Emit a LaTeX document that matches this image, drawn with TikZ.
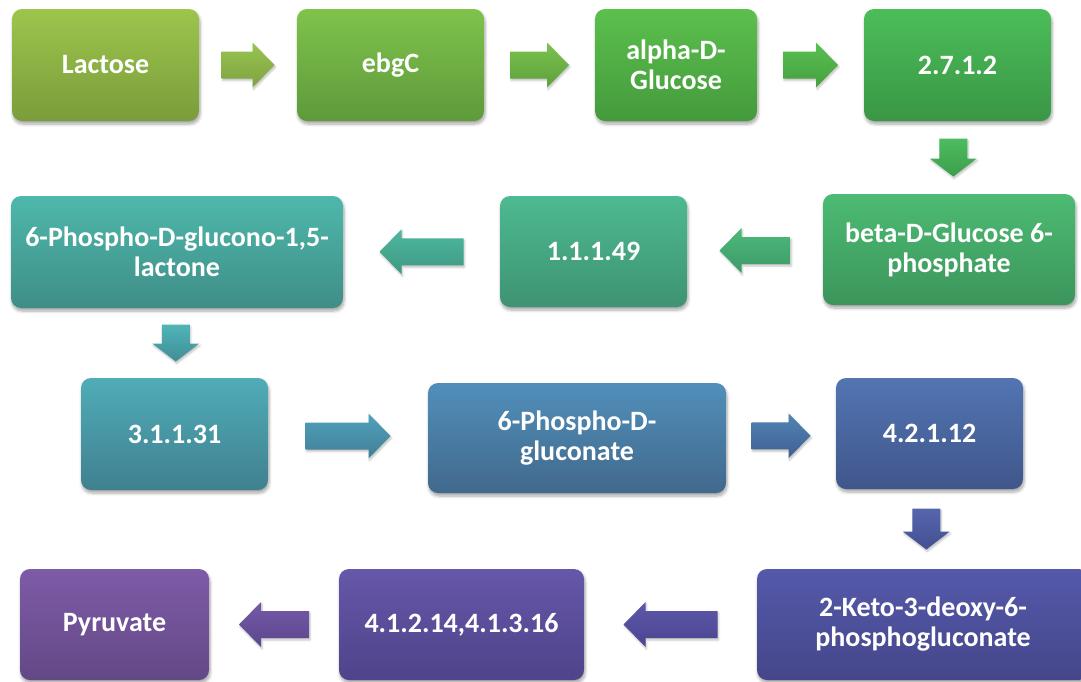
\documentclass[tikz,border=0pt]{standalone}
\usepackage{fontspec}
\setmainfont{Carlito}
\usetikzlibrary{calc,shadows.blur}

% box colours (top / bottom of each gradient)
\definecolor{lacT}{HTML}{9DC54C}\definecolor{lacB}{HTML}{7A9C3B}
\definecolor{ebgT}{HTML}{7FC34C}\definecolor{ebgB}{HTML}{5E9A3A}
\definecolor{alpT}{HTML}{5CC04D}\definecolor{alpB}{HTML}{449A3C}
\definecolor{hexT}{HTML}{4BBE58}\definecolor{hexB}{HTML}{3A9646}
\definecolor{betT}{HTML}{4CBB73}\definecolor{betB}{HTML}{3C955B}
\definecolor{g6dT}{HTML}{4DBA91}\definecolor{g6dB}{HTML}{3E9372}
\definecolor{pglT}{HTML}{4EB8AC}\definecolor{pglB}{HTML}{3F8E86}
\definecolor{lacnT}{HTML}{50ACB8}\definecolor{lacnB}{HTML}{40808F}
\definecolor{pgT}{HTML}{518FBA}\definecolor{pgB}{HTML}{41698C}
\definecolor{edT}{HTML}{5275B2}\definecolor{edB}{HTML}{40568B}
\definecolor{kdT}{HTML}{5459AA}\definecolor{kdB}{HTML}{45468A}
\definecolor{ldT}{HTML}{6657A9}\definecolor{ldB}{HTML}{4F438A}
\definecolor{pyrT}{HTML}{7E5BA7}\definecolor{pyrB}{HTML}{634886}

% arrow colours
\definecolor{a1T}{HTML}{98C452}\definecolor{a1B}{HTML}{7FA23F}
\definecolor{a2T}{HTML}{79C24E}\definecolor{a2B}{HTML}{5FA03D}
\definecolor{a3T}{HTML}{59C051}\definecolor{a3B}{HTML}{45A03F}
\definecolor{a4T}{HTML}{4DBC5F}\definecolor{a4B}{HTML}{3D9E4C}
\definecolor{a5T}{HTML}{4CBA7C}\definecolor{a5B}{HTML}{3D9A66}
\definecolor{a6T}{HTML}{4DB89D}\definecolor{a6B}{HTML}{3F9883}
\definecolor{a7T}{HTML}{4FB5B8}\definecolor{a7B}{HTML}{3F8E95}
\definecolor{a8T}{HTML}{50A1BA}\definecolor{a8B}{HTML}{417F98}
\definecolor{a9T}{HTML}{5184B6}\definecolor{a9B}{HTML}{416090}
\definecolor{a10T}{HTML}{5566B0}\definecolor{a10B}{HTML}{434F90}
\definecolor{a11T}{HTML}{5E57AA}\definecolor{a11B}{HTML}{4A4590}
\definecolor{a12T}{HTML}{7459A8}\definecolor{a12B}{HTML}{5C478D}

\tikzset{
  grad/.style 2 args={shading=axis, top color=#1, bottom color=#2},
  stepbox/.style={rounded corners=10pt, inner sep=0pt, align=center,
    text=white, font=\bfseries\fontsize{28}{30}\selectfont,
    blur shadow={shadow xshift=1pt, shadow yshift=-3pt,
      shadow blur radius=3pt, shadow blur steps=6, shadow opacity=35}},
  arrow length/.store in=\arrowlength, arrow length=53,
  arrow colours/.style 2 args={/utils/exec={\def\arrowtop{#1}\def\arrowbottom{#2}}},
  arrowbody/.style={top color=\arrowtop, bottom color=\arrowbottom,
    blur shadow={shadow xshift=1pt, shadow yshift=-2pt,
      shadow blur radius=2pt, shadow blur steps=4, shadow opacity=25}},
  % block arrows: shaft 27 wide, head 45 wide and 22 long (y grows downwards)
  pics/toright/.style={code={
    \path[arrowbody] ({-\arrowlength/2},-13.5) -- ({\arrowlength/2-22},-13.5)
      -- ({\arrowlength/2-22},-22.5) -- ({\arrowlength/2},0)
      -- ({\arrowlength/2-22},22.5) -- ({\arrowlength/2-22},13.5)
      -- ({-\arrowlength/2},13.5) -- cycle;}},
  pics/toleft/.style={code={
    \path[arrowbody] ({\arrowlength/2},-13.5) -- ({-\arrowlength/2+22},-13.5)
      -- ({-\arrowlength/2+22},-22.5) -- ({-\arrowlength/2},0)
      -- ({-\arrowlength/2+22},22.5) -- ({-\arrowlength/2+22},13.5)
      -- ({\arrowlength/2},13.5) -- cycle;}},
  pics/todown/.style={code={
    \path[arrowbody] (-14,{-\arrowlength/2}) -- (14,{-\arrowlength/2})
      -- (14,{\arrowlength/2-18}) -- (23.5,{\arrowlength/2-18})
      -- (0,{\arrowlength/2}) -- (-23.5,{\arrowlength/2-18})
      -- (-14,{\arrowlength/2-18}) -- cycle;}},
}

\begin{document}
\begin{tikzpicture}[x=1pt, y=-1pt]
\clip (0,0) rectangle (1081,681);

% pathway steps
\node[stepbox, grad={lacT}{lacB}, minimum width=187pt, minimum height=112pt] (lac) at (105.5,65) {Lactose};
\node[stepbox, grad={ebgT}{ebgB}, minimum width=187pt, minimum height=112pt] (ebg) at (390.5,65) {ebgC};
\node[stepbox, grad={alpT}{alpB}, minimum width=162pt, minimum height=112pt] (alp) at (676,65) {alpha-D-\\Glucose};
\node[stepbox, grad={hexT}{hexB}, minimum width=187pt, minimum height=112pt] (hex) at (957.5,65) {2.7.1.2};

\node[stepbox, grad={betT}{betB}, minimum width=252pt, minimum height=111pt] (bet) at (949,249.5) {beta-D-Glucose 6-\\phosphate};
\node[stepbox, grad={g6dT}{g6dB}, minimum width=187pt, minimum height=111pt] (g6d) at (593.5,251.5) {1.1.1.49};
\node[stepbox, grad={pglT}{pglB}, minimum width=332pt, minimum height=112pt] (pgl) at (177,252) {6-Phospho-D-glucono-1,5-\\lactone};

\node[stepbox, grad={lacnT}{lacnB}, minimum width=187pt, minimum height=112pt] (lcn) at (174.5,434) {3.1.1.31};
\node[stepbox, grad={pgT}{pgB}, minimum width=298pt, minimum height=110pt] (pg) at (577,438) {6-Phospho-D-\\gluconate};
\node[stepbox, grad={edT}{edB}, minimum width=187pt, minimum height=111pt] (ed) at (929.5,433.5) {4.2.1.12};

\node[stepbox, grad={kdT}{kdB}, minimum width=332pt, minimum height=111pt] (kdpg) at (923,624.5) {2-Keto-3-deoxy-6-\\phosphogluconate};
\node[stepbox, grad={ldT}{ldB}, minimum width=245pt, minimum height=111pt] (ald) at (461.5,624.5) {4.1.2.14,4.1.3.16};
\node[stepbox, grad={pyrT}{pyrB}, minimum width=189pt, minimum height=111pt] (pyr) at (114.5,624.5) {Pyruvate};

% block arrows between consecutive steps
\pic[arrow colours={a1T}{a1B}, arrow length=53] at ($(lac.east)!0.5!(ebg.west)$) {toright};
\pic[arrow colours={a2T}{a2B}, arrow length=59] at ($(ebg.east)!0.5!(alp.west)$) {toright};
\pic[arrow colours={a3T}{a3B}, arrow length=55] at ($(alp.east)!0.5!(hex.west)$) {toright};
\pic[arrow colours={a4T}{a4B}, arrow length=38] at ($(hex.south)!0.5!(bet.north)$) {todown};
\pic[arrow colours={a5T}{a5B}, arrow length=71] at ($(bet.west)!0.5!(g6d.east)$) {toleft};
\pic[arrow colours={a6T}{a6B}, arrow length=84] at ($(g6d.west)!0.5!(pgl.east)$) {toleft};
\pic[arrow colours={a7T}{a7B}, arrow length=37] at ($(pgl.south)!0.5!(lcn.north)$) {todown};
\pic[arrow colours={a8T}{a8B}, arrow length=85] at ($(lcn.east)!0.5!(pg.west)$) {toright};
\pic[arrow colours={a9T}{a9B}, arrow length=59] at ($(pg.east)!0.5!(ed.west)$) {toright};
\pic[arrow colours={a10T}{a10B}, arrow length=41] at ($(ed.south)!0.5!(kdpg.north)$) {todown};
\pic[arrow colours={a11T}{a11B}, arrow length=94] at ($(kdpg.west)!0.5!(ald.east)$) {toleft};
\pic[arrow colours={a12T}{a12B}, arrow length=70] at ($(ald.west)!0.5!(pyr.east)$) {toleft};
\end{tikzpicture}
\end{document}
